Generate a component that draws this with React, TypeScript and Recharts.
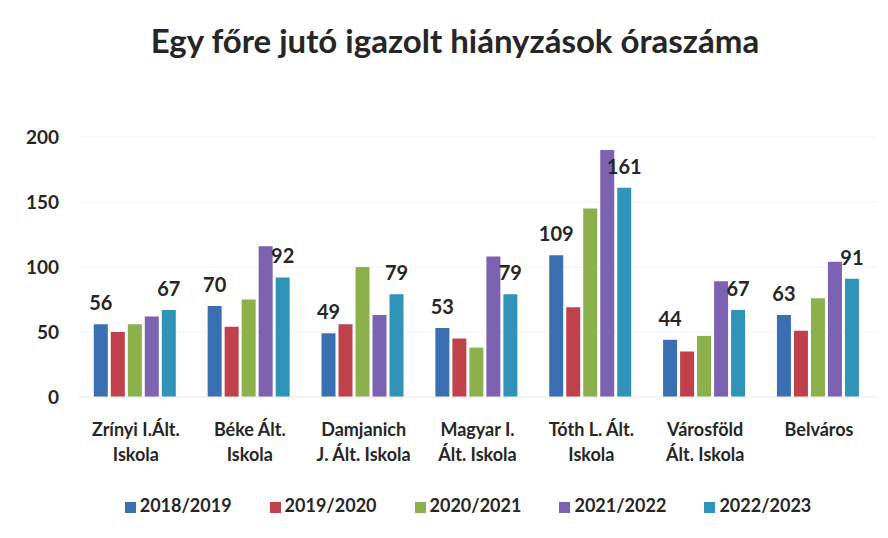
import { BarChart, Bar, XAxis, YAxis, CartesianGrid, Legend, LabelList } from 'recharts';

const schools = [
  'Zrínyi I.Ált.|Iskola',
  'Béke Ált.|Iskola',
  'Damjanich|J. Ált. Iskola',
  'Magyar I.|Ált. Iskola',
  'Tóth L. Ált.|Iskola',
  'Városföld|Ált. Iskola',
  'Belváros',
];

const y2018 = [56, 70, 49, 53, 109, 44, 63];
const y2019 = [50, 54, 56, 45, 69, 35, 51];
const y2020 = [56, 75, 100, 38, 145, 47, 76];
const y2021 = [62, 116, 63, 108, 190, 89, 104];
const y2022 = [67, 92, 79, 79, 161, 67, 91];

const yTicks = [0, 50, 100, 150, 200];

const series = [
  { key: 's2018', name: '2018/2019', color: '#3a70b2', label: true },
  { key: 's2019', name: '2019/2020', color: '#c0414b', label: false },
  { key: 's2020', name: '2020/2021', color: '#8bb04c', label: false },
  { key: 's2021', name: '2021/2022', color: '#7b63b2', label: false },
  { key: 's2022', name: '2022/2023', color: '#2f94b8', label: true },
];

const data = schools.map((school, i) => ({
  school,
  s2018: y2018[i],
  s2019: y2019[i],
  s2020: y2020[i],
  s2021: y2021[i],
  s2022: y2022[i],
}));

const font = 'Lato, "Open Sans", sans-serif';

function SchoolTick(props: any) {
  const { x, y, payload } = props;
  const lines = String(payload.value).split('|');
  return (
    <text x={x} y={y} textAnchor="middle" fill="#262626" fontSize={18} fontWeight={700} fontFamily={font}>
      {lines.map((l, i) => (
        <tspan key={i} x={x} dy={i === 0 ? 31 : 25}>
          {l}
        </tspan>
      ))}
    </text>
  );
}

export default function App() {
  return (
    <div style={{ position: 'absolute', left: 0, top: 0, width: 888, height: 538, background: '#fff' }}>
      <div
        style={{
          position: 'absolute',
          left: 0,
          top: 20,
          width: 910,
          textAlign: 'center',
          fontFamily: font,
          fontWeight: 700,
          fontSize: 33,
          color: '#262626',
        }}
      >
        Egy főre jutó igazolt hiányzások óraszáma
      </div>
      <BarChart
        width={888}
        height={538}
        data={data}
        margin={{ top: 137, right: 12, bottom: 22, left: 8 }}
        barCategoryGap="13%"
        barGap={3}
      >
        <CartesianGrid vertical={false} stroke="#f2f2f2" />
        <XAxis
          dataKey="school"
          tick={<SchoolTick />}
          tickLine={false}
          axisLine={{ stroke: '#eeeeee' }}
          interval={0}
          height={97}
        />
        <YAxis
          domain={[0, 200]}
          ticks={yTicks}
          tickLine={false}
          axisLine={false}
          tickSize={0}
          tickMargin={20}
          width={71}
          tick={{ fill: '#262626', fontSize: 19, fontWeight: 700, fontFamily: font }}
        />
        <Legend
          verticalAlign="bottom"
          iconType="square"
          iconSize={11}
          wrapperStyle={{ fontFamily: font, fontWeight: 700, fontSize: 18, paddingLeft: 45 }}
          formatter={(value: string) => <span style={{ color: '#262626', marginRight: 28 }}>{value}</span>}
        />
        {series.map((s) => (
          <Bar key={s.key} dataKey={s.key} name={s.name} fill={s.color} isAnimationActive={false}>
            {s.label && (
              <LabelList
                dataKey={s.key}
                position="top"
                offset={14}
                fill="#262626"
                fontSize={20}
                fontWeight={700}
                fontFamily={font}
              />
            )}
          </Bar>
        ))}
      </BarChart>
    </div>
  );
}
